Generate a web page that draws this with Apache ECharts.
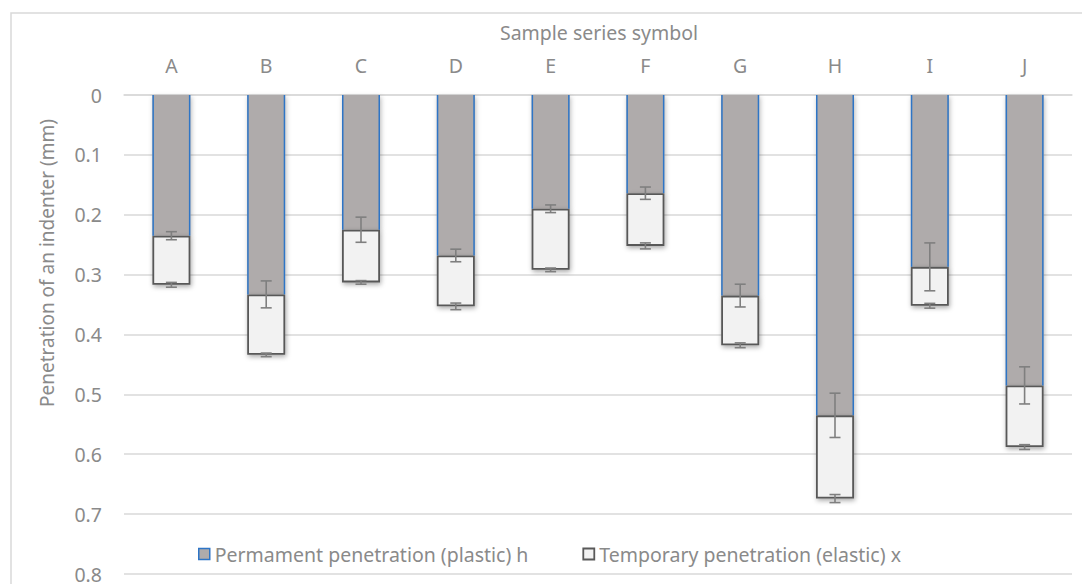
<!DOCTYPE html>
<html>
<head>
<meta charset="utf-8">
<title>Penetration of an indenter</title>
<script src="https://cdn.jsdelivr.net/npm/echarts@6/dist/echarts.min.js"></script>
<style>
  html, body { margin: 0; padding: 0; background: #ffffff; }
  #chart { width: 1082px; height: 584px; }
</style>
</head>
<body>
<div id="chart"></div>
<script>
// Sample series and measured penetration depths (mm)
const categories = ['A', 'B', 'C', 'D', 'E', 'F', 'G', 'H', 'I', 'J'];
const plastic = [0.235, 0.333, 0.225, 0.268, 0.190, 0.164, 0.335, 0.535, 0.287, 0.485];
const elastic = [0.082, 0.101, 0.088, 0.085, 0.102, 0.088, 0.083, 0.139, 0.065, 0.103];
// Standard deviations: of plastic depth, and of total (plastic + elastic) depth
const plasticErr = [0.0067, 0.0225, 0.021, 0.0105, 0.0064, 0.0103, 0.019, 0.037, 0.040, 0.031];
const totalErr = [0.004, 0.003, 0.003, 0.0055, 0.003, 0.005, 0.004, 0.0067, 0.004, 0.004];
const yTicks = ['0', '0.1', '0.2', '0.3', '0.4', '0.5', '0.6', '0.7', '0.8'];

const FONT = '"Noto Sans", "Open Sans", sans-serif';
const TEXT = '#8a8a8a';
const BAR_W = 38;
const PLASTIC_FILL = '#afabab';
const PLASTIC_EDGE = '#2e75c6';
const ELASTIC_FILL = '#f2f2f2';
const ELASTIC_EDGE = '#595959';

const NAME_H = 'Permament penetration (plastic) h';
const NAME_X = 'Temporary penetration (elastic) x';

const plasticErrData = plastic.map((v, i) => [i, v, plasticErr[i]]);
const totalErrData = plastic.map((v, i) => [i, v + elastic[i], totalErr[i]]);
const plasticEdgeData = plastic.map((v, i) => [i, v]);

// I-shaped error bar centred on a stacked value
function renderErrorBar(params, api) {
  const i = api.value(0);
  const v = api.value(1);
  const e = api.value(2);
  const hi = api.coord([i, v - e]);
  const lo = api.coord([i, v + e]);
  const cap = 5.5;
  const style = { stroke: '#7f7f7f', lineWidth: 1.6, fill: null };
  return {
    type: 'group',
    children: [
      { type: 'line', shape: { x1: hi[0], y1: hi[1], x2: lo[0], y2: lo[1] }, style },
      { type: 'line', shape: { x1: hi[0] - cap, y1: hi[1], x2: hi[0] + cap, y2: hi[1] }, style },
      { type: 'line', shape: { x1: lo[0] - cap, y1: lo[1], x2: lo[0] + cap, y2: lo[1] }, style }
    ]
  };
}

// Blue side edges of the plastic segment (left and right only)
function renderPlasticEdges(params, api) {
  const i = api.value(0);
  const top = api.coord([i, 0]);
  const bot = api.coord([i, api.value(1)]);
  const half = BAR_W / 2 - 0.75;
  const style = { stroke: PLASTIC_EDGE, lineWidth: 1.5, fill: null };
  return {
    type: 'group',
    children: [
      { type: 'line', shape: { x1: top[0] - half, y1: top[1], x2: bot[0] - half, y2: bot[1] }, style },
      { type: 'line', shape: { x1: top[0] + half, y1: top[1], x2: bot[0] + half, y2: bot[1] }, style }
    ]
  };
}

const chart = echarts.init(document.getElementById('chart'), null, { renderer: 'svg' });

chart.setOption({
  backgroundColor: '#ffffff',
  animation: false,
  textStyle: { fontFamily: FONT },
  title: {
    text: 'Sample series symbol',
    left: 594,
    textAlign: 'center',
    top: 17,
    textStyle: { fontFamily: FONT, fontSize: 19.5, fontWeight: 'normal', color: TEXT }
  },
  graphic: [
    {
      type: 'rect',
      silent: true,
      z: -10,
      shape: { x: 11, y: 13, width: 1100, height: 620 },
      style: { fill: null, stroke: '#d9d9d9', lineWidth: 1.5 }
    },
    {
      type: 'text',
      silent: true,
      x: 47,
      y: 263,
      rotation: Math.PI / 2,
      style: {
        text: 'Penetration of an indenter (mm)',
        fontFamily: FONT,
        fontSize: 19,
        fill: TEXT,
        align: 'center',
        verticalAlign: 'middle'
      }
    }
  ],
  legend: {
    left: 193,
    top: 539,
    itemWidth: 11,
    itemHeight: 11,
    itemGap: 54,
    itemTextGap: 4,
    icon: 'rect',
    textStyle: { fontFamily: FONT, fontSize: 19.5, color: TEXT },
    data: [
      { name: NAME_H, itemStyle: { color: PLASTIC_FILL, borderColor: PLASTIC_EDGE, borderWidth: 1.5, shadowBlur: 0, shadowOffsetX: 0, shadowOffsetY: 0 } },
      { name: NAME_X, itemStyle: { color: ELASTIC_FILL, borderColor: ELASTIC_EDGE, borderWidth: 1.8, shadowBlur: 0, shadowOffsetX: 0, shadowOffsetY: 0 } }
    ]
  },
  grid: { left: 124, right: 10, top: 95, bottom: 10, containLabel: false },
  xAxis: {
    type: 'category',
    position: 'top',
    data: categories,
    axisLine: { show: true, lineStyle: { color: '#d9d9d9', width: 1.5 } },
    axisTick: { show: false },
    axisLabel: { color: TEXT, fontSize: 19.5, fontFamily: FONT, margin: 20 }
  },
  yAxis: {
    type: 'value',
    inverse: true,
    min: 0,
    max: 0.8,
    interval: 0.1,
    axisLine: { show: false },
    axisTick: { show: false },
    splitLine: { lineStyle: { color: '#d9d9d9', width: 1.5 } },
    axisLabel: {
      color: TEXT,
      fontSize: 19.5,
      fontFamily: FONT,
      margin: 22,
      formatter: (val) => yTicks[Math.round(val * 10)]
    }
  },
  series: [
    {
      name: NAME_H,
      type: 'bar',
      stack: 'depth',
      barWidth: BAR_W,
      data: plastic,
      itemStyle: {
        color: PLASTIC_FILL,
        shadowColor: 'rgba(0,0,0,0.28)',
        shadowBlur: 5,
        shadowOffsetX: 1,
        shadowOffsetY: 2
      }
    },
    {
      name: NAME_X,
      type: 'bar',
      stack: 'depth',
      barWidth: BAR_W,
      data: elastic,
      itemStyle: {
        color: ELASTIC_FILL,
        borderColor: ELASTIC_EDGE,
        borderWidth: 1.8,
        shadowColor: 'rgba(0,0,0,0.35)',
        shadowBlur: 5,
        shadowOffsetX: 1,
        shadowOffsetY: 2
      }
    },
    {
      name: 'plasticEdges',
      type: 'custom',
      renderItem: renderPlasticEdges,
      data: plasticEdgeData,
      z: 5,
      silent: true
    },
    {
      name: 'plasticError',
      type: 'custom',
      renderItem: renderErrorBar,
      data: plasticErrData,
      z: 10,
      silent: true
    },
    {
      name: 'totalError',
      type: 'custom',
      renderItem: renderErrorBar,
      data: totalErrData,
      z: 10,
      silent: true
    }
  ]
});
</script>
</body>
</html>
